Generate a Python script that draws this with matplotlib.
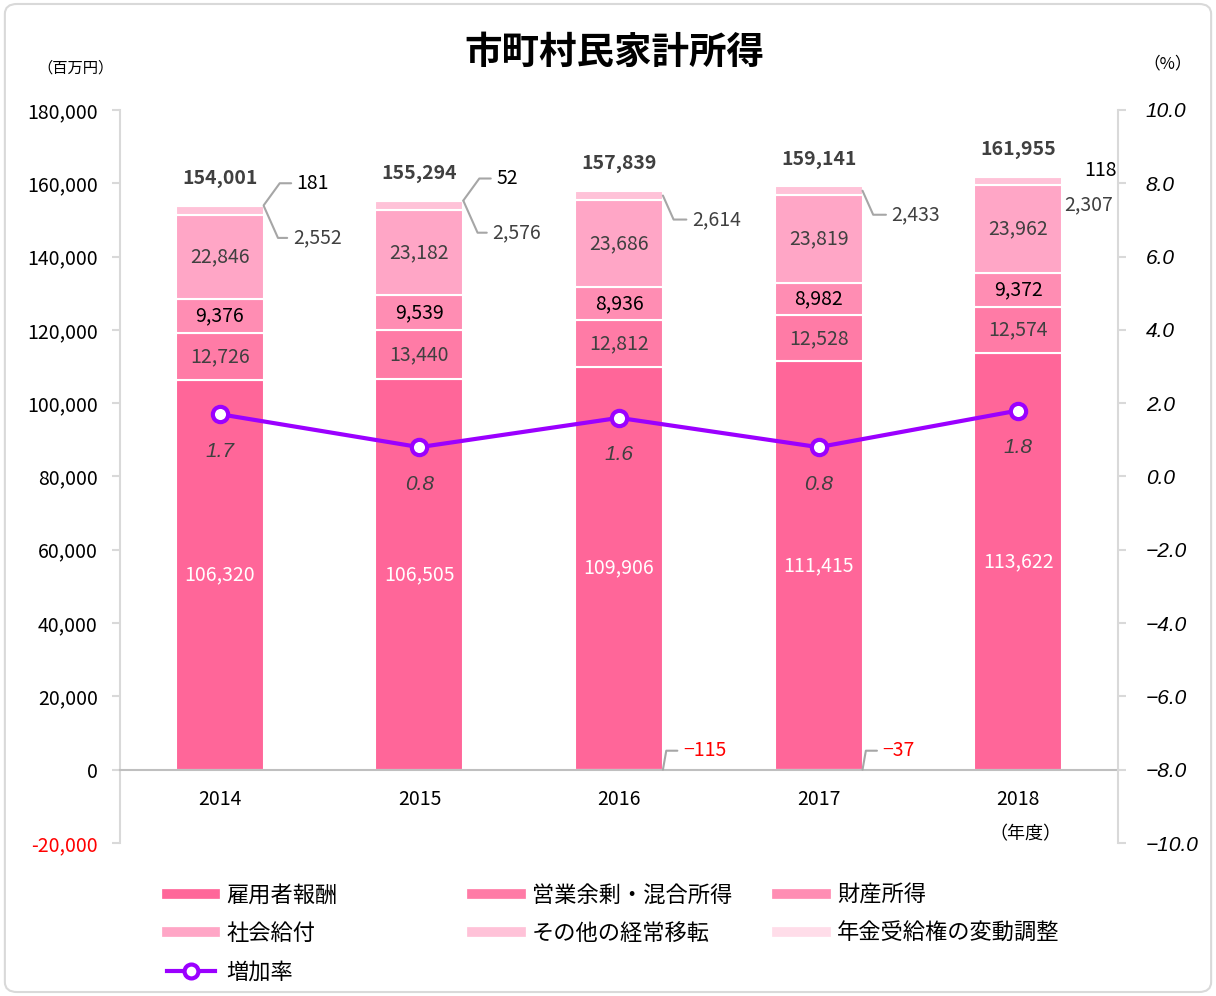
import matplotlib.pyplot as plt
from matplotlib.lines import Line2D
from matplotlib.patches import FancyBboxPatch

plt.rcParams['font.family'] = ['Noto Sans CJK JP', 'DejaVu Sans']

years = ['2014', '2015', '2016', '2017', '2018']
series_names = ['雇用者報酬', '営業余剰・混合所得', '財産所得', '社会給付', 'その他の経常移転', '年金受給権の変動調整']
employee = [106320, 106505, 109906, 111415, 113622]
surplus = [12726, 13440, 12812, 12528, 12574]
property_inc = [9376, 9539, 8936, 8982, 9372]
social = [22846, 23182, 23686, 23819, 23962]
other_trans = [2552, 2576, 2614, 2433, 2307]
pension_adj = [181, 52, -115, -37, 118]
totals = [154001, 155294, 157839, 159141, 161955]
growth = [1.7, 0.8, 1.6, 0.8, 1.8]

colors = ['#FF6699', '#FF7BA6', '#FF8DB3', '#FFA6C6', '#FFC2D8', '#FFDDE9']
label_colors = ['white', '#404040', 'black', '#404040']
line_color = '#9B00FF'
italic_font = ['Liberation Sans', 'Noto Sans CJK JP', 'DejaVu Sans']

fig = plt.figure(figsize=(12.16, 9.96), dpi=100)
fig.patches.append(FancyBboxPatch((0.004, 0.004), 0.992, 0.992,
                                  boxstyle='round,pad=0,rounding_size=0.01',
                                  transform=fig.transFigure, fill=False,
                                  edgecolor='#d9d9d9', linewidth=1.5))
ax = fig.add_axes([0.0987, 0.1536, 0.8207, 0.736])
ax2 = ax.twinx()

x = range(len(years))
width = 0.44
stack = [employee, surplus, property_inc, social, other_trans, pension_adj]
bottom = [0] * len(years)
for k, vals in enumerate(stack):
    bots = [b if v >= 0 else 0 for b, v in zip(bottom, vals)]
    ax.bar(x, vals, width, bottom=bots, color=colors[k], edgecolor='white',
           linewidth=1.5, zorder=2)
    if k < 4:
        for i, v in enumerate(vals):
            ax.text(i, bots[i] + v / 2, f'{v:,}', ha='center', va='center',
                    fontsize=14, color=label_colors[k], zorder=4)
    bottom = [b + v if v >= 0 else b for b, v in zip(bottom, vals)]

# totals above bars
for i, t in enumerate(totals):
    ax.annotate(f'{t:,}', (i, bottom[i]), xytext=(0, 27), textcoords='offset pixels',
                ha='center', va='center', fontsize=14, fontweight='bold', color='#404040')

# small segments labelled beside the bars with leader lines
lead = dict(arrowstyle='-', color='#a6a6a6', lw=1.5, shrinkA=2, shrinkB=0,
            relpos=(0, 0.5))
for i in range(len(years)):
    right = i + width / 2
    top_other = employee[i] + surplus[i] + property_inc[i] + social[i] + other_trans[i]
    p = pension_adj[i]
    if i == len(years) - 1:
        ax.annotate(f'{p:,}', (right, top_other + p), xytext=(22, 6),
                    textcoords='offset pixels', ha='left', va='center',
                    fontsize=14, color='black')
        ax.annotate(f'{other_trans[i]:,}', (right, top_other), xytext=(2, -28),
                    textcoords='offset pixels', ha='left', va='center',
                    fontsize=14, color='#404040')
        continue
    if p >= 0:
        ax.annotate(f'{p:,}', (right, top_other + p), xytext=(33, 22),
                    textcoords='offset pixels', ha='left', va='center', fontsize=14,
                    color='black',
                    arrowprops=dict(lead, connectionstyle='angle,angleA=0,angleB=54,rad=0'))
        ax.annotate(f'{other_trans[i]:,}', (right, top_other), xytext=(29, -32),
                    textcoords='offset pixels', ha='left', va='center', fontsize=14,
                    color='#404040',
                    arrowprops=dict(lead, connectionstyle='angle,angleA=0,angleB=-66,rad=0'))
    else:
        ax.annotate(f'{other_trans[i]:,}', (right, top_other - other_trans[i] / 2),
                    xytext=(29, -24), textcoords='offset pixels', ha='left',
                    va='center', fontsize=14, color='#404040',
                    arrowprops=dict(lead, connectionstyle='angle,angleA=0,angleB=-66,rad=0'))
        ax.annotate(f'{p:,}'.replace('-', '−'), (right, 0), xytext=(20, 19),
                    textcoords='offset pixels', ha='left', va='center', fontsize=14,
                    color='red',
                    arrowprops=dict(lead, connectionstyle='angle,angleA=0,angleB=80,rad=0'))

# growth rate line on right axis
ax2.plot(x, growth, color=line_color, lw=3, marker='o', markersize=11,
         markerfacecolor='white', markeredgecolor=line_color, markeredgewidth=3,
         zorder=5)
for i, g in enumerate(growth):
    ax2.annotate(f'{g:.1f}', (i, g), xytext=(0, -37), textcoords='offset pixels',
                 ha='center', va='center', fontsize=15, fontstyle='italic',
                 family=italic_font, color='#404040')

# spine position first: moving it resets the tick label styling
ax.spines['bottom'].set_position(('data', 0))
ax.set_xlim(-0.5, len(years) - 0.5)
ax.set_ylim(-20000, 180000)
ax.set_yticks(range(-20000, 180001, 20000))
ax.set_yticklabels([f'{v:,}' for v in range(-20000, 180001, 20000)], fontsize=14)
for lbl in ax.get_yticklabels():
    if lbl.get_text().startswith('-'):
        lbl.set_color('red')
ax.set_xticks(list(x))
ax.set_xticklabels(years, fontsize=14)
ax.spines['bottom'].set_color('#bfbfbf')
ax.spines['bottom'].set_linewidth(1.5)
ax.spines['left'].set_color('#d9d9d9')
ax.spines['left'].set_linewidth(1.5)
ax.spines['top'].set_visible(False)
ax.spines['right'].set_visible(False)
ax.tick_params(axis='x', length=0, pad=14)
ax.tick_params(axis='y', color='#d9d9d9', width=1.5, length=6, pad=10)

ax2.set_ylim(-10, 10)
ax2.set_yticks([v / 10 for v in range(-100, 101, 20)])
ax2.set_yticklabels([f'{v / 10:.1f}'.replace('-', '−') for v in range(-100, 101, 20)],
                    fontsize=15, fontstyle='italic', family=italic_font)
for s in ['top', 'left', 'bottom']:
    ax2.spines[s].set_visible(False)
ax2.spines['right'].set_color('#d9d9d9')
ax2.spines['right'].set_linewidth(1.5)
ax2.tick_params(axis='y', color='#d9d9d9', width=1.5, length=6, pad=14)

fig.text(0.505, 0.947, '市町村民家計所得', ha='center', va='center', fontsize=27,
         fontweight='bold')
fig.text(0.062, 0.932, '（百万円）', ha='center', va='center', fontsize=11)
fig.text(0.960, 0.936, '（%）', ha='center', va='center', fontsize=12,
         fontstyle='italic', family=['Noto Sans CJK JP', 'DejaVu Sans'])
fig.text(0.843, 0.162, '（年度）', ha='center', va='center', fontsize=13)

# legend in three columns
handles = [Line2D([], [], color=c, lw=7) for c in colors]
handles.append(Line2D([], [], color=line_color, lw=3, marker='o', markersize=10,
                      markerfacecolor='white', markeredgewidth=3))
names = series_names + ['増加率']
columns = [[0, 3, 6], [1, 4], [2, 5]]
col_x = [0.137, 0.388, 0.639]
for cx, idx in zip(col_x, columns):
    fig.legend([handles[j] for j in idx], [names[j] for j in idx],
               loc='upper left', bbox_to_anchor=(cx, 0.113), frameon=False,
               fontsize=16, handlelength=2.2, handletextpad=0.5, labelspacing=0.7,
               borderaxespad=0, borderpad=0)

fig.savefig('out.png', dpi=100)
